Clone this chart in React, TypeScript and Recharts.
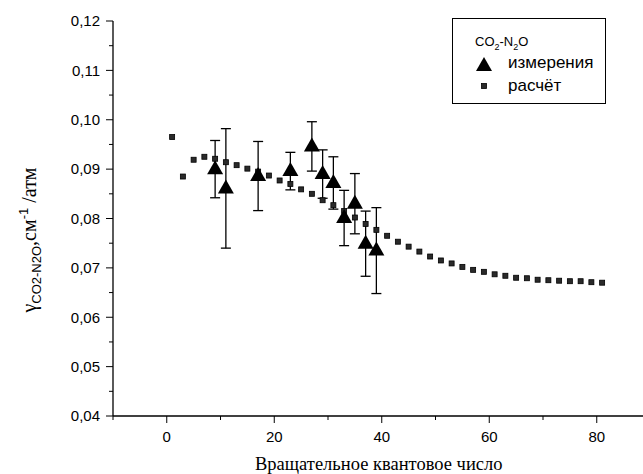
import { ScatterChart, Scatter, XAxis, YAxis, ErrorBar, Legend, Label } from 'recharts';

// calculated broadening (squares), odd J
const calcJ = [
  1, 3, 5, 7, 9, 11, 13, 15, 17, 19, 21, 23, 25, 27, 29, 31, 33, 35, 37, 39, 41,
  43, 45, 47, 49, 51, 53, 55, 57, 59, 61, 63, 65, 67, 69, 71, 73, 75, 77, 79, 81,
];
const calcGamma = [
  0.0965, 0.0885, 0.0919, 0.0925, 0.0921, 0.0914, 0.0908, 0.0901, 0.0895, 0.0887, 0.0877,
  0.087, 0.0859, 0.085, 0.0837, 0.0827, 0.0815, 0.0802, 0.0789, 0.0777, 0.0765,
  0.0753, 0.0743, 0.0733, 0.0723, 0.0715, 0.0709, 0.0702, 0.0696, 0.0692, 0.0687,
  0.0684, 0.068, 0.0679, 0.0676, 0.0675, 0.0674, 0.0673, 0.0673, 0.0671, 0.067,
];

// measurements (triangles) with error bars
const measJ = [9, 11, 17, 23, 27, 29, 31, 33, 35, 37, 39];
const measGamma = [0.09, 0.0861, 0.0886, 0.0896, 0.0946, 0.089, 0.0872, 0.0801, 0.083, 0.0749, 0.0735];
const measErr = [0.0058, 0.0121, 0.007, 0.0038, 0.005, 0.0049, 0.0053, 0.0056, 0.0061, 0.0066, 0.0087];

const xTicks = [-10, 0, 10, 20, 30, 40, 50, 60, 70, 80, 90];
const yTicks = [
  0.04, 0.045, 0.05, 0.055, 0.06, 0.065, 0.07, 0.075, 0.08, 0.085, 0.09, 0.095, 0.1, 0.105,
  0.11, 0.115, 0.12,
];

const SANS = "'Liberation Sans', Arial, sans-serif";
const SERIF = "'Liberation Serif', 'Times New Roman', serif";

const calcData = calcJ.map((j, i) => ({ j, g: calcGamma[i] }));
const measData = measJ.map((j, i) => ({ j, g: measGamma[i], err: measErr[i] }));

function XTick({ x, y, payload }: any) {
  const v = payload.value;
  const major = v % 20 === 0;
  return (
    <g>
      <line x1={x} y1={y} x2={x} y2={y + (major ? 7 : 4)} stroke="#000" strokeWidth={1} />
      {major && (
        <text x={x} y={y + 26} textAnchor="middle" fontSize={15} fontFamily={SANS} fill="#000">
          {v}
        </text>
      )}
    </g>
  );
}

function YTick({ x, y, payload }: any) {
  const v = payload.value;
  const major = Math.round(v * 1000) % 10 === 0;
  return (
    <g>
      <line x1={x} y1={y} x2={x - (major ? 7 : 4)} y2={y} stroke="#000" strokeWidth={1} />
      {major && (
        <text x={x - 13} y={y} dy="0.35em" textAnchor="end" fontSize={15} fontFamily={SANS} fill="#000">
          {v.toFixed(2).replace('.', ',')}
        </text>
      )}
    </g>
  );
}

const Square = (p: any) => (
  <rect x={p.cx - 2.5} y={p.cy - 2.5} width={5} height={5} fill="#2a2a2a" stroke="#000" strokeWidth={0.8} />
);

const Triangle = (p: any) => (
  <polygon points={`${p.cx},${p.cy - 9} ${p.cx - 8},${p.cy + 5} ${p.cx + 8},${p.cy + 5}`} fill="#000" />
);

function LegendBox() {
  return (
    <div
      style={{
        border: '1px solid #000',
        width: 152,
        height: 84,
        background: '#fff',
        fontFamily: SANS,
        color: '#000',
        position: 'relative',
      }}
    >
      <div style={{ position: 'absolute', left: 22, top: 15, fontSize: 13 }}>
        CO<sub style={{ fontSize: 9 }}>2</sub>-N<sub style={{ fontSize: 9 }}>2</sub>O
      </div>
      <svg style={{ position: 'absolute', left: 22, top: 37 }} width={18} height={16}>
        <polygon points="9,1 1,15 17,15" fill="#000" />
      </svg>
      <div style={{ position: 'absolute', left: 55, top: 34, fontSize: 17 }}>измерения</div>
      <svg style={{ position: 'absolute', left: 27, top: 63 }} width={8} height={8}>
        <rect x={1.5} y={1.5} width={5} height={5} fill="#2a2a2a" stroke="#000" strokeWidth={0.8} />
      </svg>
      <div style={{ position: 'absolute', left: 55, top: 57, fontSize: 17 }}>расчёт</div>
    </div>
  );
}

export default function App() {
  return (
    <div
      style={{
        position: 'absolute',
        left: 0,
        top: 0,
        width: 643,
        height: 474,
        overflow: 'hidden',
        background: '#fff',
      }}
    >
      <ScatterChart width={700} height={474} margin={{ top: 21, right: 49.5, bottom: 0, left: 0 }}>
        <XAxis
          type="number"
          dataKey="j"
          domain={[-10, 90]}
          ticks={xTicks}
          interval={0}
          tickSize={0}
          tickMargin={0}
          tick={<XTick />}
          height={58}
          axisLine={{ stroke: '#000', strokeWidth: 1.3 }}
          allowDataOverflow
        >
          <Label
            content={({ viewBox }: any) => (
              <text
                x={viewBox.x + viewBox.width / 2 - 3}
                y={viewBox.y + 54}
                textAnchor="middle"
                fontSize={18.5}
                fontFamily={SERIF}
                fill="#000"
              >
                Вращательное квантовое число
              </text>
            )}
          />
        </XAxis>
        <YAxis
          type="number"
          dataKey="g"
          domain={[0.04, 0.12]}
          ticks={yTicks}
          interval={0}
          tickSize={0}
          tickMargin={0}
          tick={<YTick />}
          width={113}
          axisLine={{ stroke: '#000', strokeWidth: 1.3 }}
          allowDataOverflow
        >
          <Label
            content={() => (
              <text
                transform="translate(36,240) rotate(-90)"
                textAnchor="middle"
                fontSize={20}
                fontFamily={SERIF}
                fill="#000"
              >
                γ
                <tspan fontFamily={SANS} fontSize={13} dy={5}>
                  CO2-N2O
                </tspan>
                <tspan dy={-5}>,см</tspan>
                <tspan fontFamily={SANS} fontSize={13} dy={-8}>
                  -1
                </tspan>
                <tspan dy={8}> /атм</tspan>
              </text>
            )}
          />
        </YAxis>
        <Legend
          layout="horizontal"
          align="center"
          verticalAlign="middle"
          content={<LegendBox />}
          wrapperStyle={{ left: 452, top: 18, width: 154, height: 86 }}
        />
        <Scatter name="расчёт" data={calcData} shape={<Square />} isAnimationActive={false} />
        <Scatter name="измерения" data={measData} shape={<Triangle />} isAnimationActive={false}>
          <ErrorBar dataKey="err" direction="y" width={5} stroke="#000" strokeWidth={1.3} />
        </Scatter>
      </ScatterChart>
    </div>
  );
}
